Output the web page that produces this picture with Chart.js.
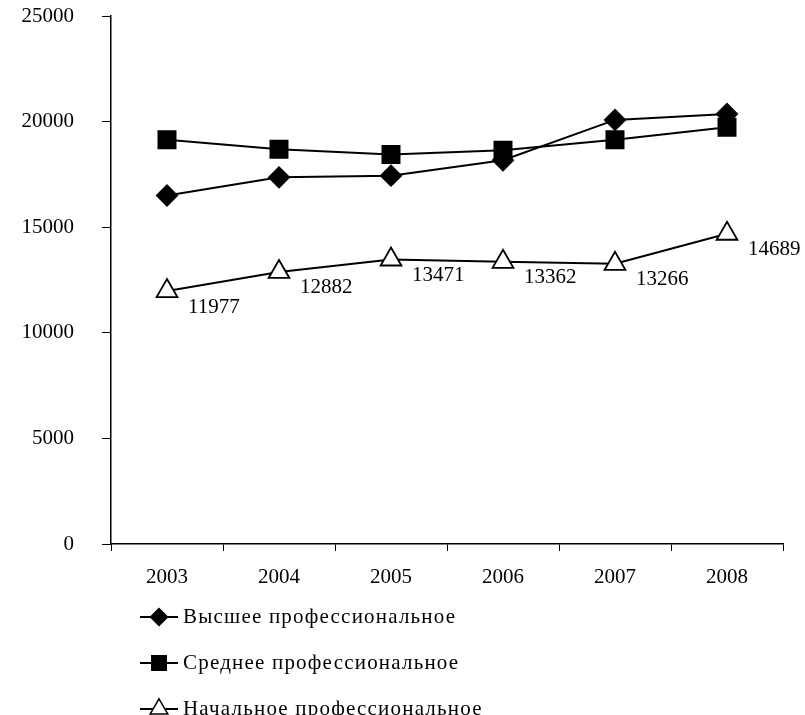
<!DOCTYPE html>
<html>
<head>
<meta charset="utf-8">
<script src="https://cdn.jsdelivr.net/npm/chart.js@4/dist/chart.umd.min.js"></script>
<style>
  html, body { margin: 0; padding: 0; background: #fff; }
  #wrap { width: 805px; height: 715px; }
</style>
</head>
<body>
<div id="wrap"><canvas id="eduChart" width="805" height="715"></canvas></div>
<script>
// data
let years = ["2003", "2004", "2005", "2006", "2007", "2008"];
let higherEdu = [16500, 17360, 17440, 18170, 20080, 20360];
let secondaryEdu = [19140, 18690, 18440, 18640, 19140, 19730];
let primaryEdu = [11977, 12882, 13471, 13362, 13266, 14689];
let seriesNames = ["Высшее профессиональное", "Среднее профессиональное", "Начальное профессиональное"];
let yTicks = [0, 5000, 10000, 15000, 20000, 25000];

let FONT = "'Liberation Serif', 'Times New Roman', serif";

// value labels to the lower right of the points
let valueLabels = {
  id: "valueLabels",
  afterDatasetsDraw(chart) {
    let ctx = chart.ctx;
    chart.data.datasets.forEach((ds, i) => {
      if (!ds.showValues) return;
      let meta = chart.getDatasetMeta(i);
      ctx.save();
      ctx.font = "21px " + FONT;
      ctx.fillStyle = "#000";
      ctx.textAlign = "left";
      ctx.textBaseline = "middle";
      meta.data.forEach((pt, j) => {
        ctx.fillText(String(ds.data[j]), pt.x + 21, pt.y + 16);
      });
      ctx.restore();
    });
  }
};

// legend under the axis: line with marker, then name
let lineLegend = {
  id: "lineLegend",
  afterDraw(chart) {
    let ctx = chart.ctx;
    let area = chart.chartArea;
    let x0 = area.left + 29;
    chart.data.datasets.forEach((ds, i) => {
      let y = area.bottom + 73 + i * 46;
      ctx.save();
      ctx.strokeStyle = "#000";
      ctx.lineWidth = 2;
      ctx.beginPath();
      ctx.moveTo(x0, y);
      ctx.lineTo(x0 + 38, y);
      ctx.stroke();
      ctx.fillStyle = ds.pointBackgroundColor;
      ctx.strokeStyle = "#000";
      ctx.lineWidth = 1.5;
      Chart.helpers.drawPoint(ctx, {
        pointStyle: ds.pointStyle,
        radius: ds.pointRadius * 0.85,
        borderWidth: 1.5
      }, x0 + 19, y);
      ctx.fillStyle = "#000";
      ctx.font = "21px " + FONT;
      ctx.letterSpacing = "1.2px";
      ctx.textAlign = "left";
      ctx.textBaseline = "middle";
      ctx.fillText(ds.label, x0 + 43, y);
      ctx.restore();
    });
  }
};

let ctx = document.getElementById("eduChart");
let chart = new Chart(ctx, {
  type: "line",
  data: {
    labels: years,
    datasets: [{
      label: seriesNames[0],
      data: higherEdu,
      borderColor: "#000",
      borderWidth: 2,
      pointStyle: "rectRot",
      pointRadius: 10,
      pointBackgroundColor: "#000",
      pointBorderColor: "#000",
      tension: 0
    }, {
      label: seriesNames[1],
      data: secondaryEdu,
      borderColor: "#000",
      borderWidth: 2,
      pointStyle: "rect",
      pointRadius: 12,
      pointBackgroundColor: "#000",
      pointBorderColor: "#000",
      tension: 0
    }, {
      label: seriesNames[2],
      data: primaryEdu,
      borderColor: "#000",
      borderWidth: 2,
      pointStyle: "triangle",
      pointRadius: 12,
      pointBackgroundColor: "#fff",
      pointBorderColor: "#000",
      pointBorderWidth: 1.8,
      showValues: true,
      tension: 0
    }]
  },
  options: {
    responsive: false,
    animation: false,
    layout: { padding: { top: 16, right: 22, left: 0, bottom: 0 } },
    plugins: {
      legend: { display: false },
      tooltip: { enabled: false }
    },
    scales: {
      x: {
        offset: true,
        grid: { offset: true, drawOnChartArea: false, drawTicks: true, tickLength: 7, color: "#000" },
        border: { display: true, color: "#000", width: 1.5 },
        ticks: { color: "#000", font: { family: FONT, size: 21 }, padding: 14 },
        afterFit(scale) {
          scale.height = 171;
          scale.paddingLeft = 0;
          scale.paddingRight = 0;
        }
      },
      y: {
        min: 0,
        max: 25000,
        afterBuildTicks(scale) { scale.ticks = yTicks.map(v => ({ value: v })); },
        grid: { drawOnChartArea: false, drawTicks: true, tickLength: 9, color: "#000" },
        border: { display: true, color: "#000", width: 1.5 },
        ticks: {
          color: "#000",
          font: { family: FONT, size: 21 },
          padding: 28,
          callback: v => String(v)
        },
        afterFit(scale) {
          scale.width = 111;
          scale.paddingTop = 0;
          scale.paddingBottom = 0;
        }
      }
    }
  },
  plugins: [valueLabels, lineLegend]
});
</script>
</body>
</html>
